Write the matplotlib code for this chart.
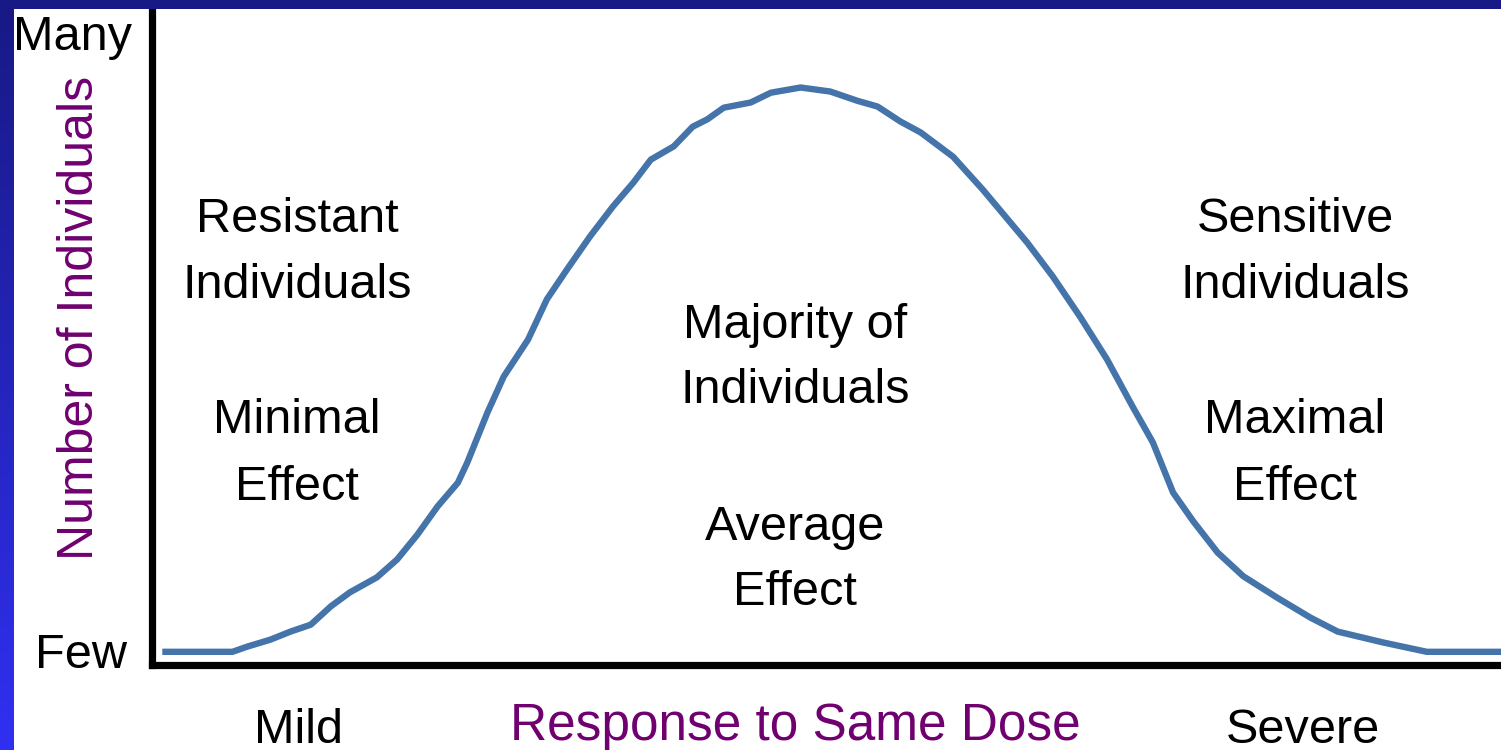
import numpy as np
import matplotlib
matplotlib.use("Agg")
import matplotlib.pyplot as plt
from matplotlib.patches import Rectangle

# ── Curve data: response (0-100) vs number of individuals (peak = 100) ──
response = [0.8, 6.0, 7.1, 8.8, 10.3, 11.8, 13.3, 14.7, 16.7, 18.2, 19.7, 21.2,
            22.7, 23.4, 24.9, 26.1, 27.9, 29.3, 30.8, 32.5, 34.2, 35.7, 37.0,
            38.7, 40.1, 41.2, 42.4, 44.4, 45.9, 48.1, 50.3, 52.3, 53.8, 55.5,
            57.0, 58.2, 59.4, 61.6, 64.9, 66.8, 68.8, 70.8, 72.7, 74.2, 75.7,
            77.2, 79.0, 80.9, 83.4, 85.9, 87.9, 91.3, 94.5, 100.0]
individuals = [2.2, 2.2, 3.1, 4.3, 5.7, 6.9, 10.1, 12.5, 15.1, 18.2, 22.5, 27.4,
               31.5, 35.0, 43.7, 49.9, 56.3, 63.3, 68.5, 74.2, 79.4, 83.5, 87.5,
               89.8, 93.2, 94.5, 96.5, 97.4, 99.1, 100.0, 99.3, 97.7, 96.7, 94.1,
               92.2, 90.1, 88.0, 82.3, 73.1, 67.2, 60.3, 52.9, 44.7, 38.5, 29.8,
               24.8, 19.4, 15.3, 11.6, 8.1, 5.7, 3.8, 2.2, 2.2]

# ── Labels inside / around the plot ──
LEFT_LINES = ["Resistant", "Individuals", "Minimal", "Effect"]
MID_LINES = ["Majority of", "Individuals", "Average", "Effect"]
RIGHT_LINES = ["Sensitive", "Individuals", "Maximal", "Effect"]
Y_TOP, Y_BOTTOM = "Many", "Few"
X_LEFT, X_RIGHT = "Mild", "Severe"
X_TITLE = "Response to Same Dose"
Y_TITLE = "Number of Individuals"

W, H = 1501, 750
FONT = ["Liberation Sans", "DejaVu Sans"]
PURPLE = "#700070"
CURVE = "#4474aa"
FS = 35

fig = plt.figure(figsize=(W / 100, H / 100), dpi=100)
fig.patch.set_facecolor("white")


def fx(px):
    return px / W


def fy(py):
    return 1 - py / H


# ── Main axes ──
ax_l, ax_b = 151.5, 664.5
ax = fig.add_axes([fx(ax_l), fy(ax_b), 1 - fx(ax_l), (ax_b - 9) / H])
ax.plot(response, individuals, color=CURVE, lw=4.6, solid_capstyle="butt",
        solid_joinstyle="round", zorder=2)
ax.set_xlim(0, 100)
ax.set_ylim(0, (ax_b - 9) / 5.77)
ax.set_xticks([])
ax.set_yticks([])
for side in ("top", "right"):
    ax.spines[side].set_visible(False)
for side in ("left", "bottom"):
    ax.spines[side].set_linewidth(5.2)
    ax.spines[side].set_capstyle("projecting")
    ax.spines[side].set_color("black")
ax.patch.set_alpha(0)

# ── Slide borders: top bar and left gradient bar ──
fig.patches.append(Rectangle((0, fy(9)), 1, 9 / H, transform=fig.transFigure,
                             facecolor="#171a86", edgecolor="none", zorder=5))
band = fig.add_axes([0, 0, 13 / W, 1])
grad = np.linspace(0, 1, 256).reshape(-1, 1)
top_c = np.array([0x18, 0x19, 0x84]) / 255
bot_c = np.array([0x30, 0x30, 0xf2]) / 255
band.imshow(top_c + grad[..., None] * (bot_c - top_c), aspect="auto",
            extent=[0, 1, 0, 1], origin="upper")
band.set_axis_off()


def label(px, base_py, s, color="black", ha="center", size=FS):
    fig.text(fx(px), fy(base_py), s, ha=ha, va="baseline", color=color,
             fontsize=size, family=FONT)


for s, b in zip(LEFT_LINES, [232, 298, 433, 500]):
    label(297, b, s)
for s, b in zip(MID_LINES, [338, 403, 540, 605]):
    label(795, b, s)
for s, b in zip(RIGHT_LINES, [232, 298, 433, 500]):
    label(1295, b, s)

label(13, 50, Y_TOP, ha="left")
label(35, 668, Y_BOTTOM, ha="left")
label(298, 743, X_LEFT)
label(1303, 743, X_RIGHT)
label(795, 740, X_TITLE, color=PURPLE, size=37)

fig.text(fx(80), fy(318), Y_TITLE, rotation=90, ha="center", va="center",
         color=PURPLE, fontsize=36, family=FONT)

fig.savefig("out.png", dpi=100)
